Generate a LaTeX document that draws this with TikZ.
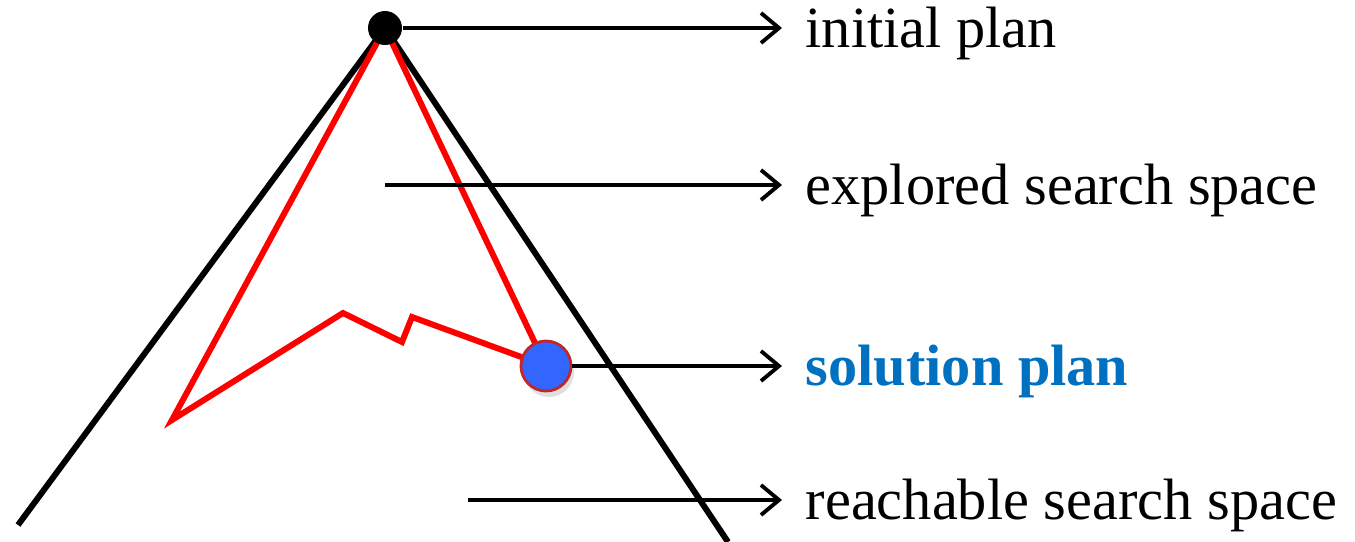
\documentclass[tikz,border=0pt]{standalone}
\usepackage{fontspec}
\setmainfont{Liberation Serif}
\usepackage{xcolor}
\usetikzlibrary{arrows.meta, positioning, shadows}
\definecolor{solblue}{RGB}{0,112,192}
\definecolor{dotblue}{RGB}{51,102,255}
\definecolor{dotrim}{RGB}{190,40,40}

\begin{document}
\begin{tikzpicture}[x=0.1mm, y=-0.1mm,
    bound/.style={draw=black, line width=1.7pt},
    route/.style={draw=red, line width=1.7pt, line join=miter},
    labelnode/.style={anchor=west, inner sep=0pt, yshift=-0.5mm, font=\fontsize{16.6}{20}\selectfont},
    pointer/.style={draw=black, line width=1pt, -{Straight Barb[length=1.8mm, width=3mm, line width=1.1pt]}, shorten >=2.3mm}
]
    \useasboundingbox (0,0) rectangle (1355,542);

    % Reachable space borders
    \coordinate (leftend) at (18,525);
    \coordinate (rightend) at (728,542);
    \coordinate (apexpt) at (385,28);
    \draw [bound] (leftend) -- (apexpt) -- (rightend);

    % Explored path
    \coordinate (solpt) at (546,366);
    \draw [route] (apexpt) -- (172,420) -- (343,313) -- (402,342) -- (412,317) -- (solpt);
    \draw [route] (apexpt) -- (solpt);

    % Plans
    \node (init) [circle, fill=black, minimum size=3.4mm, inner sep=0pt] at (apexpt) {};
    \node (sol) [circle, fill=dotblue, draw=dotrim, line width=0.8pt, minimum size=5.0mm, inner sep=0pt,
        drop shadow={shadow xshift=0.3mm, shadow yshift=-0.6mm, opacity=0.25}] at (solpt) {};

    % Labels
    \node (initlbl) [labelnode] at (805,28) {initial plan};
    \node (explbl) [labelnode] at (805,185) {explored search space};
    \node (sollbl) [labelnode, font=\fontsize{16.6}{20}\selectfont\bfseries, text=solblue] at (805,366) {solution plan};
    \node (reachlbl) [labelnode] at (805,500) {reachable search space};

    % Arrows
    \coordinate (expstart) at (385,185);
    \coordinate (reachstart) at (468,500);
    \draw [pointer] (init.east) -- (init.east -| initlbl.west);
    \draw [pointer] (expstart) -- (expstart -| explbl.west);
    \draw [pointer] (sol.east) -- (sol.east -| sollbl.west);
    \draw [pointer] (reachstart) -- (reachstart -| reachlbl.west);
\end{tikzpicture}
\end{document}
